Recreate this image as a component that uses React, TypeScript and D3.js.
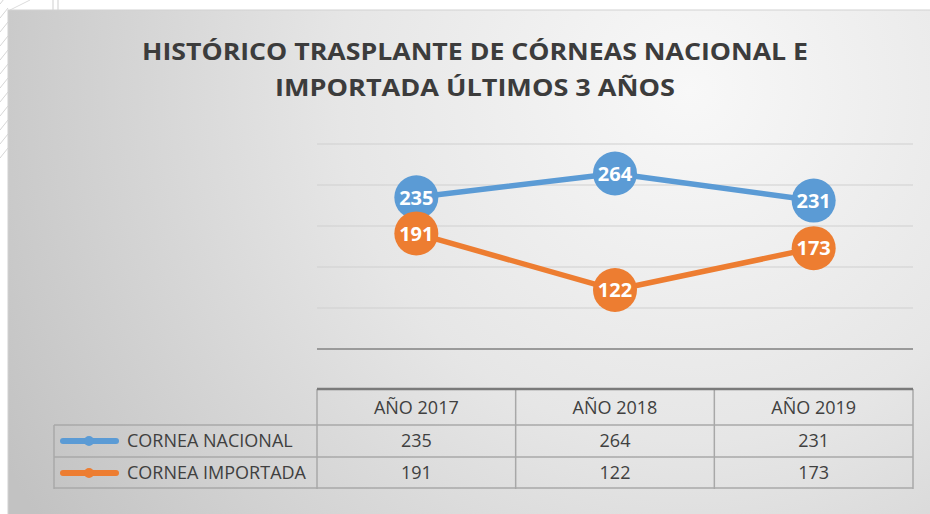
import React from "react";
import * as d3 from "d3";

const titleLines = ["HISTÓRICO TRASPLANTE DE CÓRNEAS NACIONAL E", "IMPORTADA ÚLTIMOS 3 AÑOS"];
const titleWidths = [666, 400];
const categories = ["AÑO 2017", "AÑO 2018", "AÑO 2019"];
const seriesNames = ["CORNEA NACIONAL", "CORNEA IMPORTADA"];
const nacional = [235, 264, 231];
const importada = [191, 122, 173];
const yTicks = [50, 100, 150, 200, 250, 300];
const seriesColors = ["#5B9BD5", "#ED7D31"];

export default function App() {
  const W = 930;
  const H = 514;
  const plotLeft = 317;
  const plotRight = 913;
  const x = d3.scaleBand<string>().domain(categories).range([plotLeft, plotRight]).padding(0);
  const y = d3.scaleLinear().domain([50, 300]).range([349, 144]);
  const series = [nacional, importada];
  const line = d3
    .line<number>()
    .x((_, i) => (x(categories[i]) as number) + x.bandwidth() / 2)
    .y((v) => y(v));

  const tableTop = 389;
  const headerBottom = 425;
  const rowH = 32;
  const tableLeft = 54;
  const colEdges = [plotLeft, ...categories.map((c) => (x(c) as number) + x.bandwidth())];
  const txt = "#404040";
  const font = "'Open Sans', sans-serif";

  const hatch = d3.range(0, 12).map((i) => i);

  return (
    <div style={{ position: "fixed", left: 0, top: 0 }}>
      <svg width={W} height={H} style={{ display: "block" }}>
        <defs>
          <radialGradient id="bg" gradientUnits="userSpaceOnUse" cx={690} cy={90} r={780}>
            <stop offset="0" stopColor="#f8f8f8" />
            <stop offset="0.45" stopColor="#e6e6e6" />
            <stop offset="1" stopColor="#c2c2c2" />
          </radialGradient>
        </defs>
        <rect x={0} y={0} width={W} height={H} fill="#ffffff" />
        {hatch.map((i) => (
          <line key={"h" + i} x1={0} y1={i * 14 + 4} x2={8} y2={i * 14 - 6} stroke="#d6d6d6" strokeWidth={1} />
        ))}
        <line x1={10} y1={10} x2={30} y2={0} stroke="#dcdcdc" />
        <line x1={53} y1={0} x2={53} y2={10} stroke="#cfcfcf" />
        <line x1={58} y1={0} x2={58} y2={10} stroke="#cfcfcf" />
        <rect x={8} y={10} width={W} height={H} fill="url(#bg)" stroke="#d2d2d2" strokeWidth={1} />

        {titleLines.map((t, i) => (
          <text
            key={t}
            x={475}
            y={60 + i * 36}
            textAnchor="middle"
            fontFamily={font}
            fontWeight={700}
            fontSize={24}
            fill="#3c3c3c"
            textLength={titleWidths[i]}
            lengthAdjust="spacingAndGlyphs"
          >
            {t}
          </text>
        ))}

        {yTicks.map((t) => (
          <line
            key={t}
            x1={plotLeft}
            x2={plotRight}
            y1={y(t)}
            y2={y(t)}
            stroke={t === 50 ? "#9a9a9a" : "#cfcfcf"}
            strokeWidth={t === 50 ? 2 : 1.2}
          />
        ))}

        {series.map((vals, si) => (
          <g key={si}>
            <path d={line(vals) as string} fill="none" stroke={seriesColors[si]} strokeWidth={5.5} strokeLinejoin="round" />
            {vals.map((v, i) => {
              const cx = (x(categories[i]) as number) + x.bandwidth() / 2;
              return (
                <g key={i}>
                  <circle cx={cx} cy={y(v)} r={22} fill={seriesColors[si]} />
                  <text
                    x={cx}
                    y={y(v)}
                    dy="0.36em"
                    textAnchor="middle"
                    fontFamily={font}
                    fontWeight={700}
                    fontSize={20}
                    fill="#ffffff"
                  >
                    {v}
                  </text>
                </g>
              );
            })}
          </g>
        ))}

        {colEdges.map((cx, i) => (
          <line key={"v" + i} x1={cx} x2={cx} y1={tableTop} y2={headerBottom + rowH * 2} stroke="#a8a8a8" strokeWidth={1.5} />
        ))}
        <line x1={tableLeft} x2={tableLeft} y1={headerBottom} y2={headerBottom + rowH * 2} stroke="#a8a8a8" strokeWidth={1.5} />
        {[0, 1, 2].map((r) => (
          <line
            key={"r" + r}
            x1={tableLeft}
            x2={plotRight}
            y1={headerBottom + r * rowH - (r === 2 ? 1 : 0)}
            y2={headerBottom + r * rowH - (r === 2 ? 1 : 0)}
            stroke="#a8a8a8"
            strokeWidth={1.5}
          />
        ))}
        <line x1={plotLeft} x2={plotRight} y1={tableTop} y2={tableTop} stroke="#7a7a7a" strokeWidth={2.5} />
        {categories.map((c) => (
          <text
            key={c}
            x={(x(c) as number) + x.bandwidth() / 2}
            y={414}
            textAnchor="middle"
            fontFamily={font}
            fontSize={18}
            fill={txt}
          >
            {c}
          </text>
        ))}
        {series.map((vals, si) => {
          const base = 447 + si * rowH;
          const mid = headerBottom + si * rowH + rowH / 2;
          return (
            <g key={"row" + si}>
              <line x1={63} x2={116} y1={mid} y2={mid} stroke={seriesColors[si]} strokeWidth={6} strokeLinecap="round" />
              <circle cx={89} cy={mid} r={5} fill={seriesColors[si]} />
              <text x={127} y={base} fontFamily={font} fontSize={18} fill={txt}>
                {seriesNames[si]}
              </text>
              {vals.map((v, i) => (
                <text
                  key={i}
                  x={(x(categories[i]) as number) + x.bandwidth() / 2}
                  y={base}
                  textAnchor="middle"
                  fontFamily={font}
                  fontSize={18}
                  fill={txt}
                >
                  {v}
                </text>
              ))}
            </g>
          );
        })}
      </svg>
    </div>
  );
}
